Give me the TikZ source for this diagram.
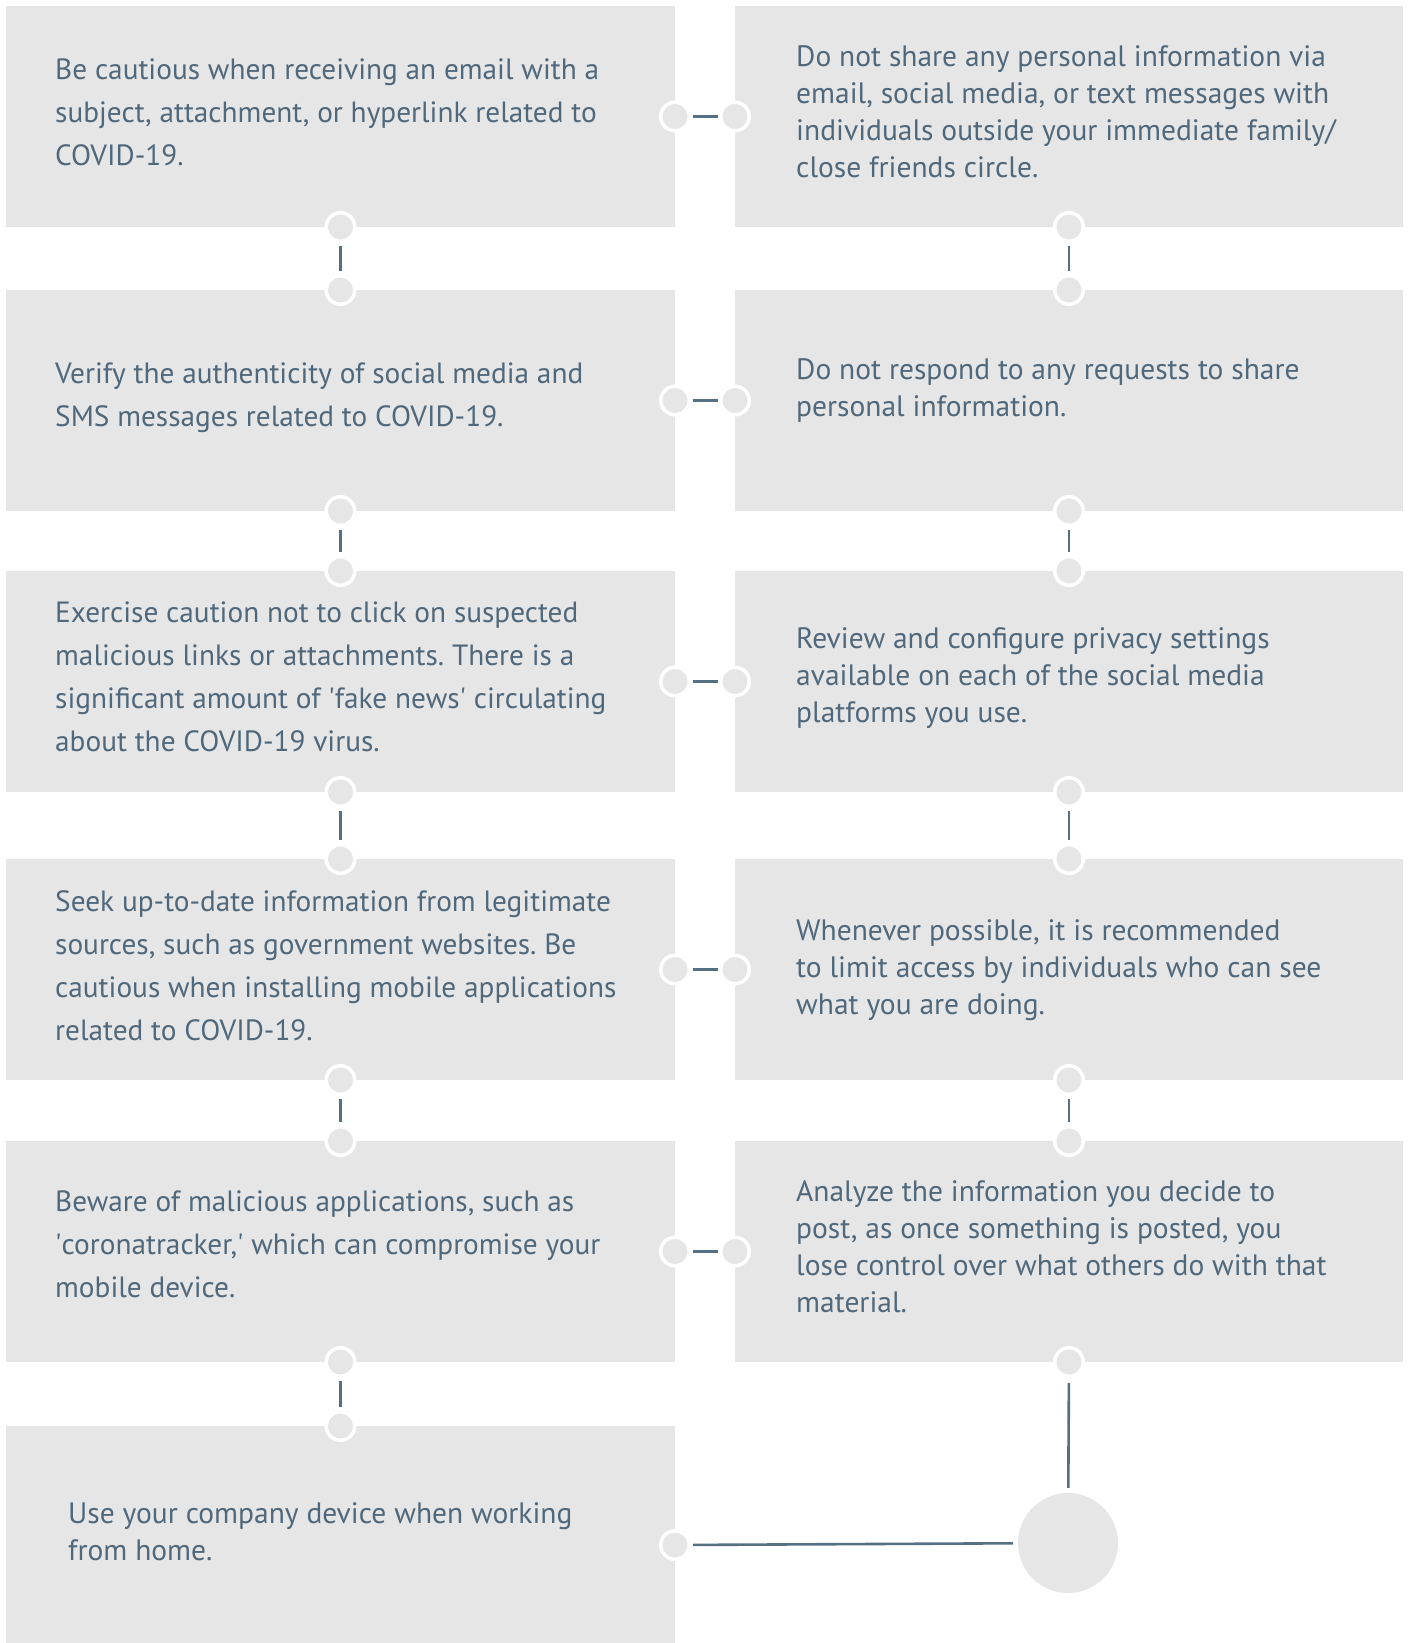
\documentclass[tikz,border=0pt]{standalone}
\usepackage{fontspec}
\setmainfont{PT Sans}
\definecolor{boxgray}{HTML}{E6E6E6}
\definecolor{txtcol}{HTML}{4F687C}
\definecolor{linecol}{HTML}{567083}
\begin{document}
\frenchspacing
\begin{tikzpicture}[x=1pt,y=-1pt,
  box/.style={fill=boxgray, draw=none, minimum width=669pt, minimum height=221pt, inner sep=0pt, outer sep=0pt, anchor=north west},
  dot/.style={circle, fill=boxgray, draw=white, line width=3.5pt, minimum size=28.5pt, inner sep=0pt},
  bigdot/.style={circle, fill=boxgray, draw=none, minimum size=100pt, inner sep=0pt},
  link/.style={draw=linecol, line width=2.6pt, shorten <=3pt, shorten >=3pt},
  ltxt/.style={anchor=west, align=left, inner sep=0pt, text=txtcol, font=\fontsize{29.3}{43}\selectfont\frenchspacing},
  rtxt/.style={anchor=west, align=left, inner sep=0pt, text=txtcol, font=\fontsize{29.5}{37}\selectfont\frenchspacing}]
\useasboundingbox[fill=white] (0,0) rectangle (1409,1643);

% boxes
\node[box] (L1) at (6,6) {};
\node[box] (L2) at (6,290) {};
\node[box] (L3) at (6,571) {};
\node[box] (L4) at (6,859) {};
\node[box] (L5) at (6,1141) {};
\node[box, minimum height=217pt] (L6) at (6,1426) {};
\node[box, minimum width=668pt] (R1) at (735,6) {};
\node[box, minimum width=668pt] (R2) at (735,290) {};
\node[box, minimum width=668pt] (R3) at (735,571) {};
\node[box, minimum width=668pt] (R4) at (735,859) {};
\node[box, minimum width=668pt] (R5) at (735,1141) {};

% texts
\node[ltxt] (t1) at (55,112) {Be cautious when receiving an email with a\\subject, attachment, or hyperlink related to\\COVID-19.};
\node[ltxt] (t2) at (55,398) {Verify the authenticity of social media and\\SMS messages related to COVID-19.};
\node[ltxt] (t3) at (55,677) {Exercise caution not to click on suspected\\malicious links or attachments. There is a\\significant amount of \textquotesingle fake news\textquotesingle\ circulating\\about the COVID-19 virus.};
\node[ltxt] (t4) at (55,966) {Seek up-to-date information from legitimate\\sources, such as government websites. Be\\cautious when installing mobile applications\\related to COVID-19.};
\node[ltxt] (t5) at (55,1244) {Beware of malicious applications, such as\\\textquotesingle coronatracker,\textquotesingle\ which can compromise your\\mobile device.};
\node[rtxt] (t6) at (68,1532) {Use your company device when working\\from home.};
\node[rtxt] (u1) at (796,112) {Do not share any personal information via\\email, social media, or text messages with\\individuals outside your immediate family/\\close friends circle.};
\node[rtxt] (u2) at (796,391) {Do not respond to any requests to share\\personal information.};
\node[rtxt] (u3) at (796,678) {Review and configure privacy settings\\available on each of the social media\\platforms you use.};
\node[rtxt] (u4) at (796,970) {Whenever possible, it is recommended\\to limit access by individuals who can see\\what you are doing.};
\node[rtxt] (u5) at (796,1247) {Analyze the information you decide to\\post, as once something is posted, you\\lose control over what others do with that\\material.};

% horizontal dots and links
\foreach \i in {1,...,5}{
  \node[dot] (hl\i) at (L\i.east) {};
  \node[dot] (hr\i) at (R\i.west) {};
  \draw[link, shorten <=1.5pt, shorten >=1.5pt] (hl\i) -- (hr\i);
}
% vertical dots and links
\foreach \i/\j in {1/2,2/3,3/4,4/5,5/6}{
  \node[dot] (vlb\i) at (L\i.south) {};
  \node[dot] (vlt\j) at (L\j.north) {};
  \draw[link] (vlb\i) -- (vlt\j);
}
\foreach \i/\j in {1/2,2/3,3/4,4/5}{
  \node[dot] (vrb\i) at (R\i.south) {};
  \node[dot] (vrt\j) at (R\j.north) {};
  \draw[link] (vrb\i) -- (vrt\j);
}
\node[dot] (vrb5) at (R5.south) {};
\node[dot] (hl6) at (675,1545) {};
\node[bigdot] (end) at (1068,1543) {};
\draw[link, shorten <=5pt, shorten >=5pt] (vrb5) -- (end);
\draw[link, shorten <=2pt, shorten >=5pt] (hl6) -- (end);
\end{tikzpicture}
\end{document}
